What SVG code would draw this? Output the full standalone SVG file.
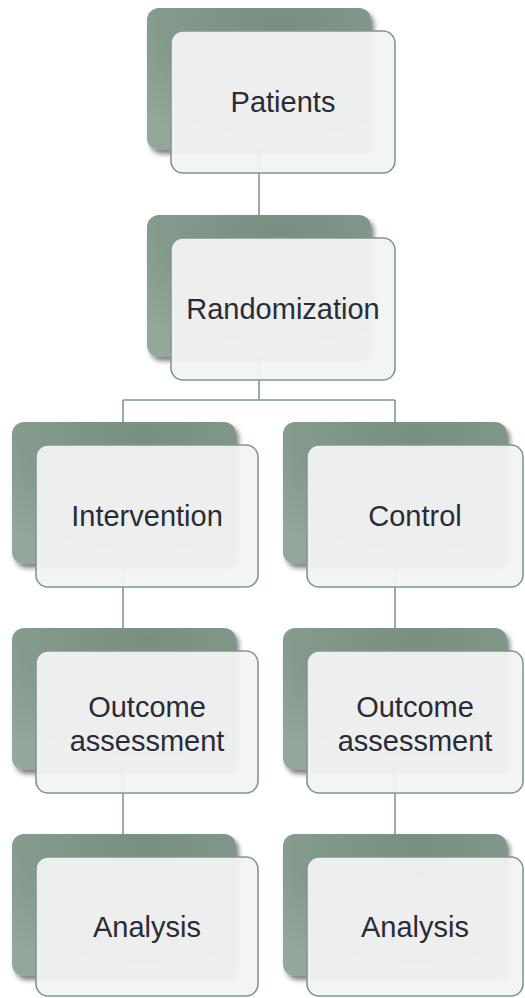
<svg xmlns="http://www.w3.org/2000/svg" width="525" height="998" viewBox="0 0 525 998">
<defs>
<radialGradient id="bg" cx="0.6" cy="0.1" r="0.9">
<stop offset="0" stop-color="#778e80"/>
<stop offset="0.6" stop-color="#849a8c"/>
<stop offset="1" stop-color="#93a89b"/>
</radialGradient>
<filter id="sh" x="-10%" y="-10%" width="125%" height="130%">
<feGaussianBlur in="SourceAlpha" stdDeviation="2.5"/>
<feOffset dx="3" dy="4" result="o"/>
<feComponentTransfer><feFuncA type="linear" slope="0.5"/></feComponentTransfer>
<feMerge><feMergeNode/><feMergeNode in="SourceGraphic"/></feMerge>
</filter>
</defs>
<style>
.back{fill:url(#bg);filter:url(#sh)}
.front{fill:#f2f3f3;fill-opacity:0.95;stroke:#7f9a8a;stroke-width:1.6}
.lbl{font-family:"Liberation Sans",Arial,sans-serif;font-size:29px;fill:#2b2b37;text-anchor:middle}
.conn{fill:none;stroke:#7f9a8a;stroke-width:1.6}
</style>
<g id="connectors" class="conn">
<path d="M259 150V215"/>
<path d="M259 357V400M123 400H395M123 400V422M395 400V422"/>
<path d="M123 564V628M123 770V834"/>
<path d="M395 564V628M395 770V834"/>
</g>
<g id="patients">
<rect class="back" x="147" y="8" width="224" height="142" rx="12"/>
<rect class="front" x="171" y="31" width="224" height="142" rx="12"/>
<text class="lbl" x="283" y="112">Patients</text>
</g>
<g id="randomization">
<rect class="back" x="147" y="215" width="224" height="142" rx="12"/>
<rect class="front" x="171" y="238" width="224" height="142" rx="12"/>
<text class="lbl" x="283" y="319">Randomization</text>
</g>
<g id="intervention">
<rect class="back" x="12" y="422" width="224" height="142" rx="12"/>
<rect class="front" x="36" y="445" width="222" height="142" rx="12"/>
<text class="lbl" x="147" y="526">Intervention</text>
</g>
<g id="control">
<rect class="back" x="283" y="422" width="224" height="142" rx="12"/>
<rect class="front" x="307" y="445" width="216" height="142" rx="12"/>
<text class="lbl" x="415" y="526">Control</text>
</g>
<g id="outcome-left">
<rect class="back" x="12" y="628" width="224" height="142" rx="12"/>
<rect class="front" x="36" y="651" width="222" height="142" rx="12"/>
<text class="lbl" x="147" y="717">Outcome</text>
<text class="lbl" x="147" y="751">assessment</text>
</g>
<g id="outcome-right">
<rect class="back" x="283" y="628" width="224" height="142" rx="12"/>
<rect class="front" x="307" y="651" width="216" height="142" rx="12"/>
<text class="lbl" x="415" y="717">Outcome</text>
<text class="lbl" x="415" y="751">assessment</text>
</g>
<g id="analysis-left">
<rect class="back" x="12" y="834" width="224" height="142" rx="12"/>
<rect class="front" x="36" y="857" width="222" height="139" rx="12"/>
<text class="lbl" x="147" y="937">Analysis</text>
</g>
<g id="analysis-right">
<rect class="back" x="283" y="834" width="224" height="142" rx="12"/>
<rect class="front" x="307" y="857" width="216" height="139" rx="12"/>
<text class="lbl" x="415" y="937">Analysis</text>
</g>
</svg>
